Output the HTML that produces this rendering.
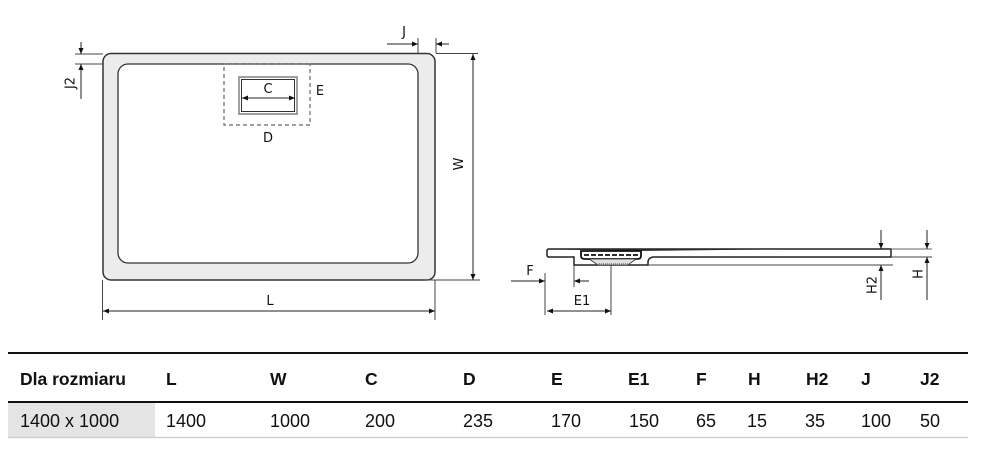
<!DOCTYPE html>
<html>
<head>
<meta charset="utf-8">
<style>
html,body{margin:0;padding:0;background:#fff;}
body{width:986px;height:451px;overflow:hidden;}
svg{display:block;}
.lbl{font-family:"DejaVu Sans","Liberation Sans",sans-serif;font-size:13px;fill:#111;}
.th{font-family:"Liberation Sans",sans-serif;font-size:17.5px;font-weight:bold;fill:#111;}
.td{font-family:"Liberation Sans",sans-serif;font-size:18px;fill:#111;}
</style>
</head>
<body>
<svg width="986" height="451" viewBox="0 0 986 451" xmlns="http://www.w3.org/2000/svg">
  <!-- ===== TOP VIEW ===== -->
  <rect x="103" y="53.5" width="332" height="226.5" rx="8" ry="8" fill="#ececec" stroke="#333" stroke-width="1.5"/>
  <rect x="118" y="64" width="300" height="199" rx="10" ry="10" fill="#fff" stroke="#333" stroke-width="1.3"/>
  <!-- dashed drain zone -->
  <rect x="224" y="64" width="86" height="61" fill="none" stroke="#666" stroke-width="1.2" stroke-dasharray="4 3"/>
  <!-- drain -->
  <rect x="239" y="77" width="58" height="37" fill="#fff" stroke="#888" stroke-width="1.6"/>
  <rect x="241.5" y="79.5" width="53" height="32" fill="none" stroke="#333" stroke-width="1"/>
  <!-- C dim -->
  <line x1="242" y1="98" x2="295" y2="98" stroke="#222" stroke-width="1"/>
  <polygon points="248,95.5 248,100.5 242,98" fill="#111"/>
  <polygon points="289,95.5 289,100.5 295,98" fill="#111"/>
  <text class="lbl" x="268" y="93" text-anchor="middle">C</text>
  <text class="lbl" x="320" y="95" text-anchor="middle">E</text>
  <text class="lbl" x="268" y="142" text-anchor="middle">D</text>

  <!-- J2 -->
  <line x1="75" y1="54" x2="103" y2="54" stroke="#444" stroke-width="1"/>
  <line x1="75" y1="64" x2="103" y2="64" stroke="#444" stroke-width="1"/>
  <line x1="81" y1="42" x2="81" y2="54" stroke="#222" stroke-width="1"/>
  <polygon points="78.5,48 83.5,48 81,54" fill="#111"/>
  <line x1="81" y1="64" x2="81" y2="99" stroke="#222" stroke-width="1"/>
  <polygon points="78.5,70 83.5,70 81,64" fill="#111"/>
  <text class="lbl" x="0" y="0" text-anchor="middle" transform="translate(74.5,83) rotate(-90)">J2</text>

  <!-- J -->
  <line x1="418" y1="38" x2="418" y2="53" stroke="#444" stroke-width="1"/>
  <line x1="436" y1="38" x2="436" y2="53" stroke="#444" stroke-width="1"/>
  <line x1="387" y1="44" x2="418" y2="44" stroke="#222" stroke-width="1"/>
  <polygon points="412,41.5 412,46.5 418,44" fill="#111"/>
  <line x1="436" y1="44" x2="449" y2="44" stroke="#222" stroke-width="1"/>
  <polygon points="442,41.5 442,46.5 436,44" fill="#111"/>
  <text class="lbl" x="404" y="36" text-anchor="middle">J</text>

  <!-- W -->
  <line x1="436" y1="53.5" x2="478" y2="53.5" stroke="#444" stroke-width="1"/>
  <line x1="423" y1="280" x2="480" y2="280" stroke="#444" stroke-width="1"/>
  <line x1="473" y1="54" x2="473" y2="280" stroke="#222" stroke-width="1"/>
  <polygon points="470.5,60 475.5,60 473,54" fill="#111"/>
  <polygon points="470.5,274 475.5,274 473,280" fill="#111"/>
  <text class="lbl" x="0" y="0" text-anchor="middle" transform="translate(463,164) rotate(-90)">W</text>

  <!-- L -->
  <line x1="102.5" y1="280" x2="102.5" y2="320" stroke="#444" stroke-width="1"/>
  <line x1="435" y1="280" x2="435" y2="320" stroke="#444" stroke-width="1"/>
  <line x1="103" y1="311" x2="435" y2="311" stroke="#222" stroke-width="1"/>
  <polygon points="109,308.5 109,313.5 103,311" fill="#111"/>
  <polygon points="429,308.5 429,313.5 435,311" fill="#111"/>
  <text class="lbl" x="270" y="305" text-anchor="middle">L</text>

  <!-- ===== SIDE VIEW ===== -->
  <path d="M549,249 L891,249 L891,257 L653,257 Q648,258 648,262 L648,265 L574,265 L574,257 L549,257 Q547,257 547,255 L547,251 Q547,249 549,249 Z" fill="#fff" stroke="#222" stroke-width="1.5"/>
  <!-- slope wedge on top -->
  <path d="M556,249.5 L640,249.5 L790,249.2 L640,251 Z" fill="#333" stroke="none"/>
  <!-- drain detail -->
  <path d="M581,251 L641,251 L641,256 Q641,259 637,259 L585,259 Q581,259 581,256 Z" fill="#fff" stroke="#111" stroke-width="1.8"/>
  <line x1="584" y1="255" x2="638" y2="255" stroke="#111" stroke-width="1.8" stroke-dasharray="5 2"/>
  <path d="M589,259 L636,259 L628,265 L598,265 Z" fill="#e0e0e0" stroke="#333" stroke-width="0.8"/>
  <line x1="599" y1="264" x2="628" y2="264" stroke="#777" stroke-width="1.5" stroke-dasharray="1 1"/>
  <!-- extension lines -->
  <line x1="648" y1="265" x2="893" y2="265" stroke="#444" stroke-width="1"/>
  <line x1="891" y1="249" x2="932" y2="249" stroke="#666" stroke-width="1"/>
  <line x1="891" y1="257" x2="932" y2="257" stroke="#444" stroke-width="1"/>

  <!-- F -->
  <line x1="545" y1="273" x2="545" y2="315" stroke="#444" stroke-width="1"/>
  <line x1="574" y1="265" x2="574" y2="287" stroke="#444" stroke-width="1"/>
  <line x1="511" y1="281" x2="545" y2="281" stroke="#222" stroke-width="1"/>
  <polygon points="539,278.5 539,283.5 545,281" fill="#111"/>
  <line x1="574" y1="281" x2="589" y2="281" stroke="#222" stroke-width="1"/>
  <polygon points="580,278.5 580,283.5 574,281" fill="#111"/>
  <text class="lbl" x="530" y="275" text-anchor="middle">F</text>

  <!-- E1 -->
  <line x1="611" y1="265" x2="611" y2="315" stroke="#444" stroke-width="1"/>
  <line x1="547" y1="311" x2="611" y2="311" stroke="#222" stroke-width="1"/>
  <polygon points="553,308.5 553,313.5 547,311" fill="#111"/>
  <polygon points="605,308.5 605,313.5 611,311" fill="#111"/>
  <text class="lbl" x="582" y="305" text-anchor="middle">E1</text>

  <!-- H2 -->
  <line x1="881" y1="230" x2="881" y2="249" stroke="#222" stroke-width="1"/>
  <polygon points="878.5,243 883.5,243 881,249" fill="#111"/>
  <line x1="881" y1="265" x2="881" y2="300" stroke="#222" stroke-width="1"/>
  <polygon points="878.5,271 883.5,271 881,265" fill="#111"/>
  <text class="lbl" x="0" y="0" text-anchor="middle" transform="translate(876.5,285) rotate(-90)">H2</text>

  <!-- H -->
  <line x1="927" y1="230" x2="927" y2="249" stroke="#222" stroke-width="1"/>
  <polygon points="924.5,243 929.5,243 927,249" fill="#111"/>
  <line x1="927" y1="257" x2="927" y2="300" stroke="#222" stroke-width="1"/>
  <polygon points="924.5,263 929.5,263 927,257" fill="#111"/>
  <text class="lbl" x="0" y="0" text-anchor="middle" transform="translate(922.5,274) rotate(-90)">H</text>

  <!-- ===== TABLE ===== -->
  <rect x="8" y="403" width="147" height="34" fill="#e4e4e4"/>
  <line x1="8" y1="353" x2="968" y2="353" stroke="#111" stroke-width="2"/>
  <line x1="8" y1="402" x2="968" y2="402" stroke="#111" stroke-width="2"/>
  <line x1="8" y1="437.5" x2="968" y2="437.5" stroke="#cfcfcf" stroke-width="1.5"/>

  <text class="th" x="20" y="385">Dla rozmiaru</text>
  <text class="th" x="166" y="385">L</text>
  <text class="th" x="270" y="385">W</text>
  <text class="th" x="365" y="385">C</text>
  <text class="th" x="463" y="385">D</text>
  <text class="th" x="551" y="385">E</text>
  <text class="th" x="628" y="385">E1</text>
  <text class="th" x="696" y="385">F</text>
  <text class="th" x="748" y="385">H</text>
  <text class="th" x="806" y="385">H2</text>
  <text class="th" x="861" y="385">J</text>
  <text class="th" x="920" y="385">J2</text>

  <text class="td" x="20" y="427">1400 x 1000</text>
  <text class="td" x="166" y="427">1400</text>
  <text class="td" x="270" y="427">1000</text>
  <text class="td" x="365" y="427">200</text>
  <text class="td" x="463" y="427">235</text>
  <text class="td" x="551" y="427">170</text>
  <text class="td" x="629" y="427">150</text>
  <text class="td" x="696" y="427">65</text>
  <text class="td" x="747" y="427">15</text>
  <text class="td" x="805" y="427">35</text>
  <text class="td" x="861" y="427">100</text>
  <text class="td" x="920" y="427">50</text>
</svg>
</body>
</html>
